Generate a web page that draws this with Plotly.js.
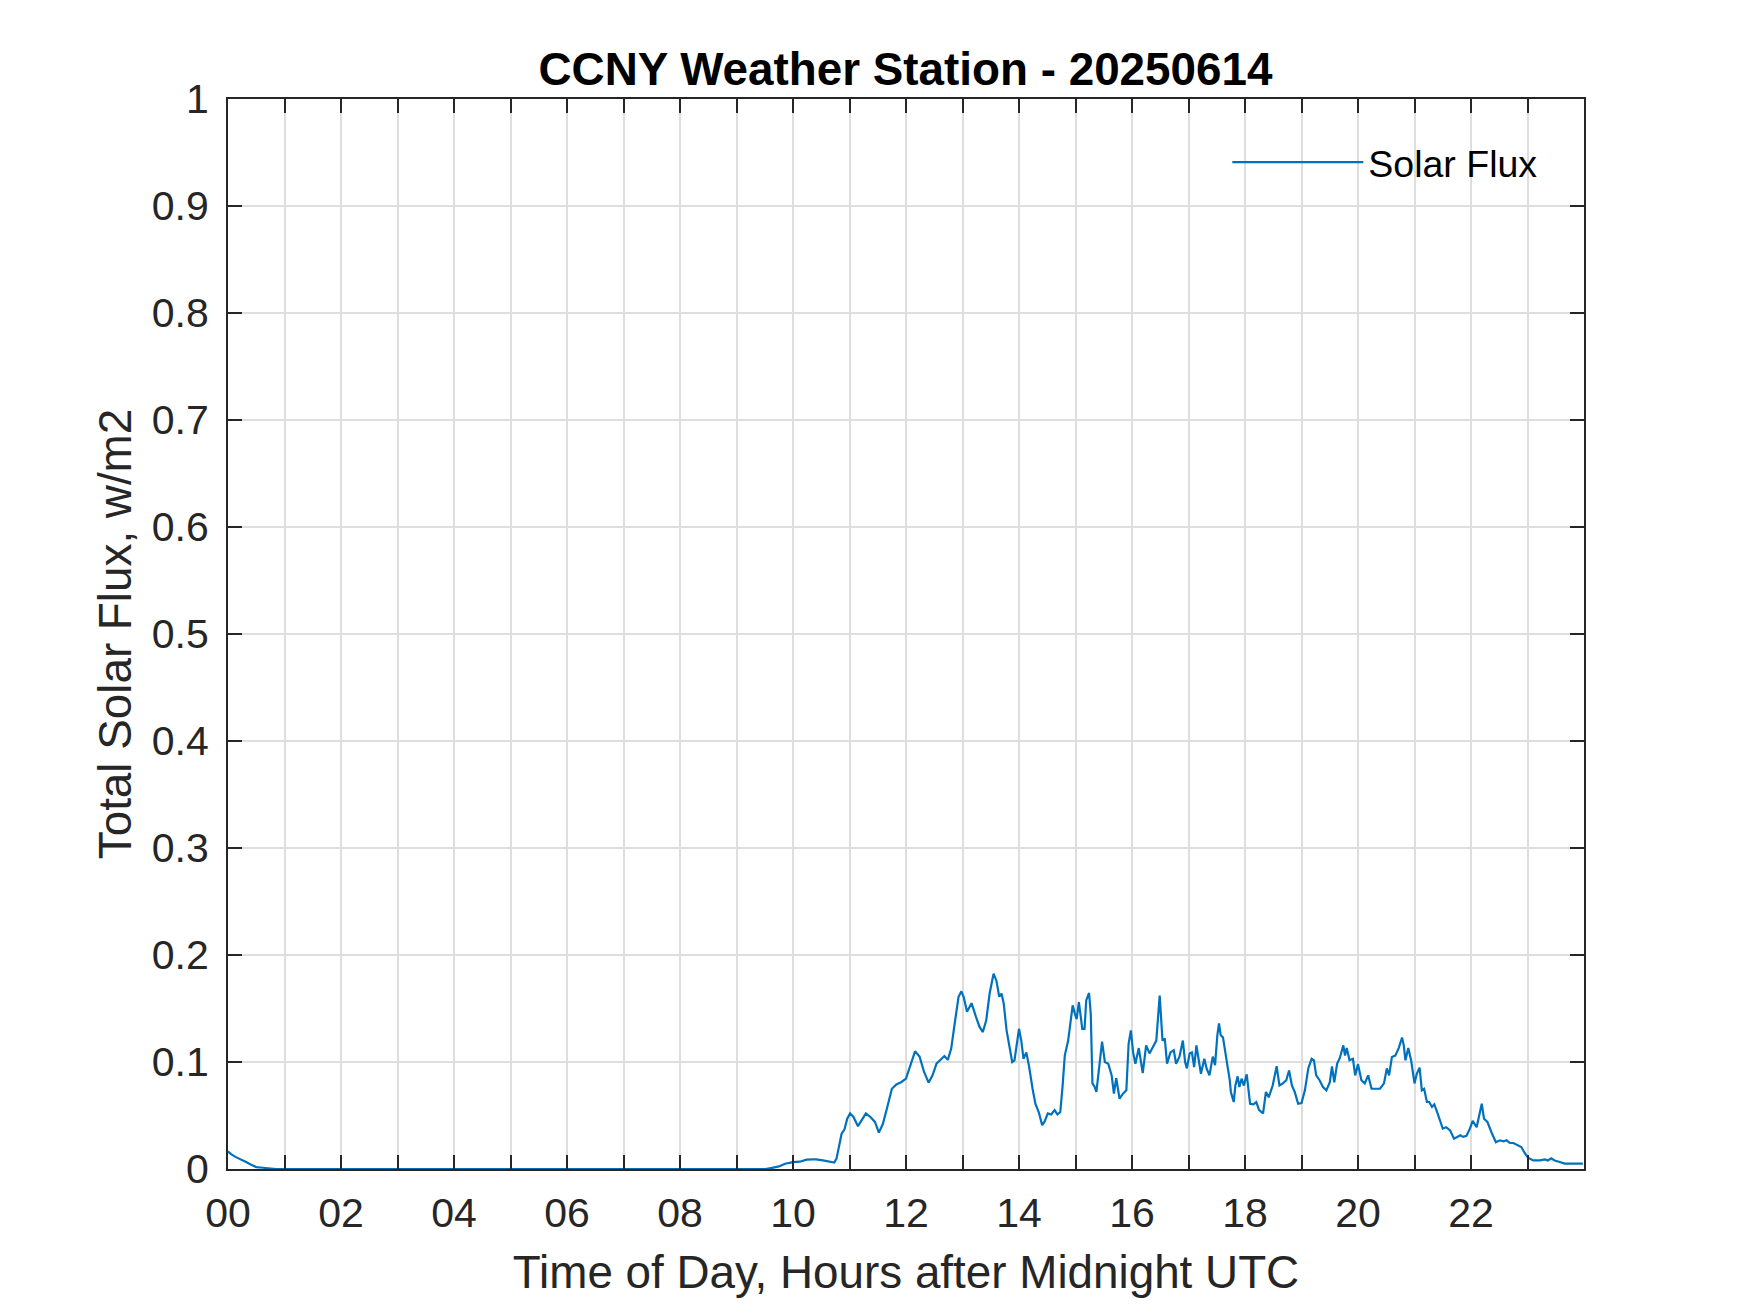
<!DOCTYPE html>
<html>
<head>
<meta charset="utf-8">
<script src="https://cdn.plot.ly/plotly-3.0.1.min.js"></script>
<style>
html,body{margin:0;padding:0;background:#fff;}
#chart{width:1750px;height:1313px;}
</style>
</head>
<body>
<div id="chart"></div>
<script>
// Hours after midnight UTC
const hours = [
0.00,0.06,0.14,0.24,0.32,0.41,0.50,0.62,0.74,0.85,2,4,6,8,9.51,9.63,9.75,9.86,
10.00,10.12,10.24,10.35,10.41,10.53,10.65,10.73,10.77,10.81,10.86,10.91,10.96,
11.01,11.07,11.15,11.21,11.29,11.37,11.45,11.52,11.59,11.66,11.75,11.83,11.92,
12.00,12.08,12.16,12.24,12.32,12.40,12.47,12.54,12.63,12.68,12.74,12.80,12.87,12.93,12.98,
13.02,13.08,13.16,13.24,13.30,13.36,13.42,13.48,13.55,13.60,13.65,13.69,13.73,13.78,13.82,13.88,13.92,13.96,
14.00,14.04,14.08,14.13,14.18,14.24,14.29,14.35,14.41,14.45,14.51,14.57,14.63,14.68,14.73,14.77,14.81,14.87,14.91,14.95,14.99,
15.02,15.06,15.09,15.12,15.16,15.19,15.24,15.27,15.30,15.34,15.37,15.41,15.47,15.52,15.58,15.64,15.68,15.72,15.78,15.84,15.90,15.94,15.98,
16.02,16.06,16.12,16.19,16.25,16.31,16.37,16.43,16.49,16.54,16.58,16.62,16.68,16.74,16.78,16.84,16.90,16.94,16.97,
17.02,17.06,17.10,17.14,17.18,17.22,17.28,17.32,17.37,17.43,17.47,17.51,17.54,17.57,17.61,17.65,17.69,17.73,17.75,17.80,17.83,17.87,17.90,17.94,17.98,
18.03,18.09,18.15,18.20,18.25,18.32,18.37,18.42,18.49,18.56,18.61,18.67,18.73,18.78,18.83,18.88,18.94,
19.00,19.06,19.12,19.18,19.22,19.26,19.32,19.38,19.44,19.50,19.54,19.58,19.63,19.68,19.74,19.77,19.80,19.85,19.91,19.95,
20.00,20.06,20.12,20.18,20.24,20.30,20.39,20.46,20.51,20.55,20.60,20.66,20.72,20.78,20.81,20.84,20.89,20.94,20.97,
21.00,21.04,21.09,21.13,21.17,21.22,21.26,21.31,21.35,21.41,21.45,21.50,21.56,21.63,21.70,21.76,21.81,21.86,21.92,21.98,
22.03,22.10,22.15,22.19,22.23,22.29,22.36,22.44,22.51,22.58,22.63,22.69,22.75,22.84,22.89,22.95,
23.01,23.10,23.22,23.31,23.36,23.42,23.48,23.57,23.66,23.81,23.98
];
// Total solar flux, w/m2
const solarFlux = [
0.0164,0.0137,0.0111,0.0090,0.0066,0.0040,0.0018,0.0012,0.0003,0,0,0,0,0,0,0.0010,0.0024,0.0049,
0.0065,0.0068,0.0087,0.0090,0.0090,0.0080,0.0069,0.0060,0.0097,0.0206,0.0330,0.0368,0.0470,
0.0520,0.0486,0.0400,0.0455,0.0520,0.0486,0.0440,0.0340,0.0420,0.0560,0.0750,0.0790,0.0813,
0.0844,0.0969,0.1100,0.1050,0.0907,0.0807,0.0875,0.0984,0.1030,0.1056,0.1020,0.1125,0.1390,0.1610,0.1660,
0.1610,0.1470,0.1550,0.1420,0.1330,0.1280,0.1390,0.1640,0.1826,0.1760,0.1610,0.1640,0.1545,0.1296,0.1187,0.1000,0.1016,0.1170,
0.1310,0.1200,0.1030,0.1090,0.0953,0.0750,0.0610,0.0530,0.0410,0.0440,0.0520,0.0510,0.0550,0.0510,0.0530,0.0766,0.1060,0.1200,0.1390,0.1530,0.1450,
0.1400,0.1560,0.1420,0.1310,0.1310,0.1576,0.1645,0.1450,0.0800,0.0766,0.0720,0.0890,0.1190,0.1000,0.0984,0.0875,0.0704,0.0850,0.0657,0.0704,0.0735,0.1170,0.1296,
0.1090,0.0984,0.1130,0.0897,0.1156,0.1080,0.1140,0.1200,0.1620,0.1200,0.1220,0.0984,0.1090,0.1110,0.0984,0.1050,0.1200,0.1000,0.0940,
0.1080,0.1090,0.0953,0.1156,0.1016,0.0890,0.1030,0.0940,0.0875,0.1050,0.0970,0.1250,0.1360,0.1250,0.1230,0.1090,0.0984,0.0830,0.0720,0.0626,0.0780,0.0866,0.0766,0.0844,0.0780,
0.0885,0.0610,0.0604,0.0626,0.0550,0.0520,0.0720,0.0670,0.0780,0.0960,0.0780,0.0800,0.0830,0.0920,0.0780,0.0720,0.0610,
0.0617,0.0735,0.0940,0.1030,0.1016,0.0875,0.0830,0.0766,0.0735,0.0810,0.0960,0.0810,0.0984,0.1040,0.1156,0.1060,0.1130,0.1016,0.1030,0.0875,
0.0980,0.0830,0.0800,0.0875,0.0750,0.0750,0.0750,0.0800,0.0940,0.0875,0.1047,0.1060,0.1130,0.1228,0.1156,0.1016,0.1130,0.1016,0.0906,
0.0800,0.0890,0.0947,0.0735,0.0750,0.0626,0.0626,0.0580,0.0604,0.0517,0.0455,0.0377,0.0390,0.0360,0.0283,0.0300,0.0315,0.0300,0.0310,0.0377,
0.0450,0.0390,0.0517,0.0610,0.0470,0.0440,0.0346,0.0250,0.0268,0.0259,0.0268,0.0243,0.0243,0.0220,0.0206,0.0150,
0.0106,0.0080,0.0080,0.0090,0.0080,0.0100,0.0080,0.0065,0.0050,0.0050,0.0050
];
const xTickVals = [0,1,2,3,4,5,6,7,8,9,10,11,12,13,14,15,16,17,18,19,20,21,22,23,24];
const xTickText = ["00","","02","","04","","06","","08","","10","","12","","14","","16","","18","","20","","22","",""];
const yTickVals = [0,0.1,0.2,0.3,0.4,0.5,0.6,0.7,0.8,0.9,1];
const yTickText = ["0","0.1","0.2","0.3","0.4","0.5","0.6","0.7","0.8","0.9","1"];

const FONT = "'Liberation Sans', Arial, Helvetica, sans-serif";
const AX = '#262626';

const trace = {
  x: hours, y: solarFlux, type: 'scatter', mode: 'lines',
  name: 'Solar Flux',
  line: {color: '#0072BD', width: 2.2},
  hoverinfo: 'x+y'
};

const axisCommon = {
  showline: true, linecolor: AX, linewidth: 2, mirror: 'ticks',
  ticks: 'inside', ticklen: 14, tickwidth: 2, tickcolor: AX,
  showgrid: true, gridcolor: '#dedede', gridwidth: 1.6,
  zeroline: false,
  tickfont: {family: FONT, size: 41, color: AX},
  tickmode: 'array'
};

const layout = {
  width: 1750, height: 1313,
  margin: {l: 227.5, r: 166.25, t: 98.5, b: 144.4, pad: 0},
  paper_bgcolor: '#ffffff', plot_bgcolor: '#ffffff',
  font: {family: FONT, color: AX},
  title: {
    text: '<b>CCNY Weather Station - 20250614</b>',
    font: {family: FONT, size: 45.8, color: '#000000'},
    x: 905.5/1750, xanchor: 'center', xref: 'container',
    y: 1 - 69/1313, yanchor: 'middle', yref: 'container'
  },
  xaxis: Object.assign({}, axisCommon, {
    range: [0, 24],
    tickvals: xTickVals, ticktext: xTickText,
    ticklabelstandoff: 7,
    title: {text: 'Time of Day, Hours after Midnight UTC', font: {family: FONT, size: 45.8, color: AX}, standoff: 21}
  }),
  yaxis: Object.assign({}, axisCommon, {
    range: [0, 1],
    tickvals: yTickVals, ticktext: yTickText,
    ticklabelstandoff: 9,
    title: {text: 'Total Solar Flux, w/m2', font: {family: FONT, size: 45.8, color: AX}, standoff: 6}
  }),
  showlegend: true,
  legend: {
    x: (1237 - 227.5 - 10)/1356.25, xanchor: 'left',
    y: (1168.6 - 161.7)/1070.1, yanchor: 'middle',
    bgcolor: 'rgba(0,0,0,0)', borderwidth: 0,
    font: {family: FONT, size: 37.5, color: '#000000'},
    itemwidth: 131
  }
};

Plotly.newPlot('chart', [trace], layout, {displayModeBar: false, responsive: false});
</script>
</body>
</html>
